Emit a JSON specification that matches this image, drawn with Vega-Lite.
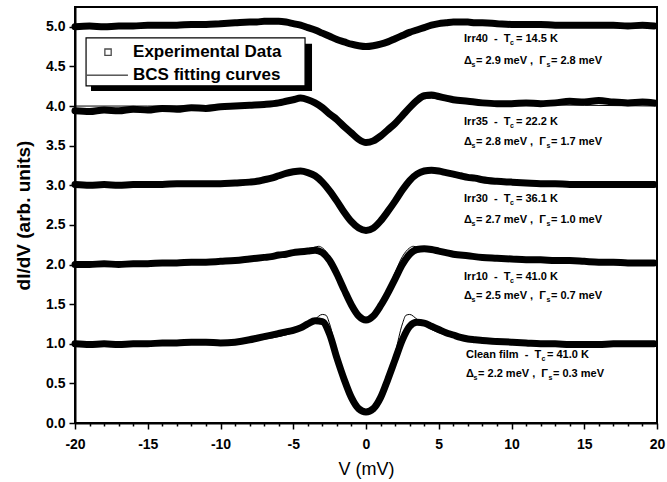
{
  "$schema": "https://vega.github.io/schema/vega-lite/v6.json",
  "autosize": "none",
  "width": 582,
  "height": 416,
  "padding": {"left": 75, "top": 7, "right": 10, "bottom": 59},
  "background": "white",
  "config": {
    "view": {"stroke": "black", "strokeWidth": 2},
    "axis": {
      "grid": false,
      "domainColor": "black",
      "domainWidth": 2,
      "tickColor": "black",
      "tickWidth": 1.5,
      "labelFont": "Liberation Sans",
      "labelFontWeight": "bold",
      "labelFontSize": 14,
      "labelColor": "black",
      "labelOverlap": false,
      "labelBound": false,
      "labelFlush": false,
      "titleColor": "black"
    },
    "text": {"font": "Liberation Sans"}
  },
  "resolve": {"axis": {"x": "independent"}},
  "datasets": {
    "exp": [
      {"s":"Irr40","v":-20,"g":5.00},{"s":"Irr40","v":-19,"g":5.01},{"s":"Irr40","v":-18,"g":5.00},{"s":"Irr40","v":-17,"g":5.01},{"s":"Irr40","v":-16,"g":5.01},{"s":"Irr40","v":-15,"g":5.02},{"s":"Irr40","v":-14,"g":5.02},{"s":"Irr40","v":-13,"g":5.02},{"s":"Irr40","v":-12,"g":5.03},{"s":"Irr40","v":-11,"g":5.03},{"s":"Irr40","v":-10,"g":5.04},{"s":"Irr40","v":-9,"g":5.05},{"s":"Irr40","v":-8,"g":5.06},{"s":"Irr40","v":-7.5,"g":5.06},{"s":"Irr40","v":-7,"g":5.07},{"s":"Irr40","v":-6.5,"g":5.07},{"s":"Irr40","v":-6,"g":5.07},{"s":"Irr40","v":-5.5,"g":5.06},{"s":"Irr40","v":-5,"g":5.04},{"s":"Irr40","v":-4.5,"g":5.02},{"s":"Irr40","v":-4,"g":4.99},{"s":"Irr40","v":-3.5,"g":4.96},{"s":"Irr40","v":-3,"g":4.92},{"s":"Irr40","v":-2.5,"g":4.88},{"s":"Irr40","v":-2,"g":4.84},{"s":"Irr40","v":-1.5,"g":4.81},{"s":"Irr40","v":-1,"g":4.78},{"s":"Irr40","v":-0.5,"g":4.76},{"s":"Irr40","v":0,"g":4.75},{"s":"Irr40","v":0.5,"g":4.76},{"s":"Irr40","v":1,"g":4.78},{"s":"Irr40","v":1.5,"g":4.81},{"s":"Irr40","v":2,"g":4.85},{"s":"Irr40","v":2.5,"g":4.89},{"s":"Irr40","v":3,"g":4.93},{"s":"Irr40","v":3.5,"g":4.96},{"s":"Irr40","v":4,"g":4.99},{"s":"Irr40","v":4.5,"g":5.02},{"s":"Irr40","v":5,"g":5.04},{"s":"Irr40","v":5.5,"g":5.05},{"s":"Irr40","v":6,"g":5.06},{"s":"Irr40","v":6.5,"g":5.06},{"s":"Irr40","v":7,"g":5.06},{"s":"Irr40","v":7.5,"g":5.05},{"s":"Irr40","v":8,"g":5.05},{"s":"Irr40","v":9,"g":5.04},{"s":"Irr40","v":10,"g":5.03},{"s":"Irr40","v":11,"g":5.03},{"s":"Irr40","v":12,"g":5.03},{"s":"Irr40","v":13,"g":5.02},{"s":"Irr40","v":14,"g":5.02},{"s":"Irr40","v":15,"g":5.02},{"s":"Irr40","v":16,"g":5.02},{"s":"Irr40","v":17,"g":5.02},{"s":"Irr40","v":18,"g":5.01},{"s":"Irr40","v":19,"g":5.02},{"s":"Irr40","v":19.8,"g":5.01},

      {"s":"Irr35","v":-20,"g":3.94},{"s":"Irr35","v":-19,"g":3.93},{"s":"Irr35","v":-18,"g":3.95},{"s":"Irr35","v":-17,"g":3.94},{"s":"Irr35","v":-16,"g":3.96},{"s":"Irr35","v":-15,"g":3.95},{"s":"Irr35","v":-14,"g":3.97},{"s":"Irr35","v":-13,"g":3.96},{"s":"Irr35","v":-12,"g":3.98},{"s":"Irr35","v":-11,"g":3.97},{"s":"Irr35","v":-10,"g":3.99},{"s":"Irr35","v":-9,"g":4.00},{"s":"Irr35","v":-8,"g":4.01},{"s":"Irr35","v":-7,"g":4.02},{"s":"Irr35","v":-6,"g":4.04},{"s":"Irr35","v":-5.5,"g":4.06},{"s":"Irr35","v":-5,"g":4.08},{"s":"Irr35","v":-4.5,"g":4.10},{"s":"Irr35","v":-4,"g":4.08},{"s":"Irr35","v":-3.5,"g":4.04},{"s":"Irr35","v":-3,"g":3.98},{"s":"Irr35","v":-2.5,"g":3.90},{"s":"Irr35","v":-2,"g":3.83},{"s":"Irr35","v":-1.5,"g":3.74},{"s":"Irr35","v":-1,"g":3.66},{"s":"Irr35","v":-0.5,"g":3.58},{"s":"Irr35","v":0,"g":3.54},{"s":"Irr35","v":0.5,"g":3.56},{"s":"Irr35","v":1,"g":3.62},{"s":"Irr35","v":1.5,"g":3.70},{"s":"Irr35","v":2,"g":3.78},{"s":"Irr35","v":2.5,"g":3.88},{"s":"Irr35","v":3,"g":3.98},{"s":"Irr35","v":3.5,"g":4.07},{"s":"Irr35","v":4,"g":4.13},{"s":"Irr35","v":4.5,"g":4.14},{"s":"Irr35","v":5,"g":4.12},{"s":"Irr35","v":5.5,"g":4.10},{"s":"Irr35","v":6,"g":4.08},{"s":"Irr35","v":7,"g":4.06},{"s":"Irr35","v":8,"g":4.04},{"s":"Irr35","v":9,"g":4.03},{"s":"Irr35","v":10,"g":4.03},{"s":"Irr35","v":11,"g":4.04},{"s":"Irr35","v":12,"g":4.03},{"s":"Irr35","v":13,"g":4.04},{"s":"Irr35","v":14,"g":4.06},{"s":"Irr35","v":15,"g":4.05},{"s":"Irr35","v":16,"g":4.07},{"s":"Irr35","v":17,"g":4.05},{"s":"Irr35","v":18,"g":4.04},{"s":"Irr35","v":19,"g":4.05},{"s":"Irr35","v":19.8,"g":4.04},

      {"s":"Irr30","v":-20,"g":3.01},{"s":"Irr30","v":-19,"g":3.00},{"s":"Irr30","v":-18,"g":3.01},{"s":"Irr30","v":-17,"g":3.00},{"s":"Irr30","v":-16,"g":3.01},{"s":"Irr30","v":-15,"g":3.01},{"s":"Irr30","v":-14,"g":3.01},{"s":"Irr30","v":-13,"g":3.02},{"s":"Irr30","v":-12,"g":3.02},{"s":"Irr30","v":-11,"g":3.02},{"s":"Irr30","v":-10,"g":3.02},{"s":"Irr30","v":-9,"g":3.03},{"s":"Irr30","v":-8,"g":3.04},{"s":"Irr30","v":-7.5,"g":3.05},{"s":"Irr30","v":-7,"g":3.07},{"s":"Irr30","v":-6.5,"g":3.09},{"s":"Irr30","v":-6,"g":3.12},{"s":"Irr30","v":-5.5,"g":3.15},{"s":"Irr30","v":-5,"g":3.17},{"s":"Irr30","v":-4.5,"g":3.18},{"s":"Irr30","v":-4,"g":3.16},{"s":"Irr30","v":-3.5,"g":3.12},{"s":"Irr30","v":-3,"g":3.04},{"s":"Irr30","v":-2.5,"g":2.93},{"s":"Irr30","v":-2,"g":2.80},{"s":"Irr30","v":-1.5,"g":2.66},{"s":"Irr30","v":-1,"g":2.54},{"s":"Irr30","v":-0.5,"g":2.46},{"s":"Irr30","v":0,"g":2.43},{"s":"Irr30","v":0.5,"g":2.46},{"s":"Irr30","v":1,"g":2.55},{"s":"Irr30","v":1.5,"g":2.67},{"s":"Irr30","v":2,"g":2.80},{"s":"Irr30","v":2.5,"g":2.94},{"s":"Irr30","v":3,"g":3.06},{"s":"Irr30","v":3.5,"g":3.14},{"s":"Irr30","v":4,"g":3.18},{"s":"Irr30","v":4.5,"g":3.19},{"s":"Irr30","v":5,"g":3.18},{"s":"Irr30","v":5.5,"g":3.16},{"s":"Irr30","v":6,"g":3.14},{"s":"Irr30","v":6.5,"g":3.12},{"s":"Irr30","v":7,"g":3.10},{"s":"Irr30","v":7.5,"g":3.09},{"s":"Irr30","v":8,"g":3.07},{"s":"Irr30","v":9,"g":3.05},{"s":"Irr30","v":10,"g":3.04},{"s":"Irr30","v":11,"g":3.03},{"s":"Irr30","v":12,"g":3.02},{"s":"Irr30","v":13,"g":3.02},{"s":"Irr30","v":14,"g":3.01},{"s":"Irr30","v":15,"g":3.01},{"s":"Irr30","v":16,"g":3.01},{"s":"Irr30","v":17,"g":3.01},{"s":"Irr30","v":18,"g":3.01},{"s":"Irr30","v":19,"g":3.01},{"s":"Irr30","v":19.8,"g":3.01},

      {"s":"Irr10","v":-20,"g":2.00},{"s":"Irr10","v":-19,"g":2.00},{"s":"Irr10","v":-18,"g":2.01},{"s":"Irr10","v":-17,"g":2.00},{"s":"Irr10","v":-16,"g":2.01},{"s":"Irr10","v":-15,"g":2.01},{"s":"Irr10","v":-14,"g":2.02},{"s":"Irr10","v":-13,"g":2.02},{"s":"Irr10","v":-12,"g":2.03},{"s":"Irr10","v":-11,"g":2.03},{"s":"Irr10","v":-10,"g":2.04},{"s":"Irr10","v":-9,"g":2.05},{"s":"Irr10","v":-8,"g":2.07},{"s":"Irr10","v":-7.5,"g":2.08},{"s":"Irr10","v":-7,"g":2.09},{"s":"Irr10","v":-6.5,"g":2.10},{"s":"Irr10","v":-6,"g":2.12},{"s":"Irr10","v":-5.5,"g":2.13},{"s":"Irr10","v":-5,"g":2.15},{"s":"Irr10","v":-4.5,"g":2.16},{"s":"Irr10","v":-4,"g":2.17},{"s":"Irr10","v":-3.5,"g":2.18},{"s":"Irr10","v":-3,"g":2.15},{"s":"Irr10","v":-2.5,"g":2.05},{"s":"Irr10","v":-2,"g":1.88},{"s":"Irr10","v":-1.5,"g":1.68},{"s":"Irr10","v":-1,"g":1.49},{"s":"Irr10","v":-0.5,"g":1.35},{"s":"Irr10","v":0,"g":1.30},{"s":"Irr10","v":0.5,"g":1.35},{"s":"Irr10","v":1,"g":1.48},{"s":"Irr10","v":1.5,"g":1.64},{"s":"Irr10","v":2,"g":1.82},{"s":"Irr10","v":2.5,"g":2.00},{"s":"Irr10","v":3,"g":2.13},{"s":"Irr10","v":3.5,"g":2.19},{"s":"Irr10","v":4,"g":2.20},{"s":"Irr10","v":4.5,"g":2.19},{"s":"Irr10","v":5,"g":2.17},{"s":"Irr10","v":5.5,"g":2.15},{"s":"Irr10","v":6,"g":2.13},{"s":"Irr10","v":7,"g":2.11},{"s":"Irr10","v":8,"g":2.09},{"s":"Irr10","v":9,"g":2.08},{"s":"Irr10","v":10,"g":2.07},{"s":"Irr10","v":11,"g":2.06},{"s":"Irr10","v":12,"g":2.06},{"s":"Irr10","v":13,"g":2.05},{"s":"Irr10","v":14,"g":2.05},{"s":"Irr10","v":15,"g":2.04},{"s":"Irr10","v":16,"g":2.03},{"s":"Irr10","v":17,"g":2.03},{"s":"Irr10","v":18,"g":2.02},{"s":"Irr10","v":19,"g":2.02},{"s":"Irr10","v":19.8,"g":2.02},

      {"s":"Clean","v":-20,"g":1.00},{"s":"Clean","v":-19,"g":0.99},{"s":"Clean","v":-18,"g":1.00},{"s":"Clean","v":-17,"g":0.99},{"s":"Clean","v":-16,"g":1.00},{"s":"Clean","v":-15,"g":1.00},{"s":"Clean","v":-14,"g":1.01},{"s":"Clean","v":-13,"g":1.01},{"s":"Clean","v":-12,"g":1.02},{"s":"Clean","v":-11,"g":1.02},{"s":"Clean","v":-10,"g":1.01},{"s":"Clean","v":-9,"g":1.02},{"s":"Clean","v":-8,"g":1.05},{"s":"Clean","v":-7.5,"g":1.07},{"s":"Clean","v":-7,"g":1.09},{"s":"Clean","v":-6.5,"g":1.11},{"s":"Clean","v":-6,"g":1.13},{"s":"Clean","v":-5.5,"g":1.15},{"s":"Clean","v":-5,"g":1.17},{"s":"Clean","v":-4.5,"g":1.20},{"s":"Clean","v":-4,"g":1.25},{"s":"Clean","v":-3.5,"g":1.29},{"s":"Clean","v":-3,"g":1.28},{"s":"Clean","v":-2.5,"g":1.12},{"s":"Clean","v":-2,"g":0.82},{"s":"Clean","v":-1.5,"g":0.55},{"s":"Clean","v":-1,"g":0.32},{"s":"Clean","v":-0.5,"g":0.18},{"s":"Clean","v":0,"g":0.14},{"s":"Clean","v":0.5,"g":0.18},{"s":"Clean","v":1,"g":0.32},{"s":"Clean","v":1.5,"g":0.55},{"s":"Clean","v":2,"g":0.80},{"s":"Clean","v":2.5,"g":1.05},{"s":"Clean","v":3,"g":1.22},{"s":"Clean","v":3.5,"g":1.27},{"s":"Clean","v":4,"g":1.26},{"s":"Clean","v":4.5,"g":1.22},{"s":"Clean","v":5,"g":1.18},{"s":"Clean","v":5.5,"g":1.14},{"s":"Clean","v":6,"g":1.11},{"s":"Clean","v":6.5,"g":1.08},{"s":"Clean","v":7,"g":1.06},{"s":"Clean","v":7.5,"g":1.05},{"s":"Clean","v":8,"g":1.04},{"s":"Clean","v":9,"g":1.03},{"s":"Clean","v":10,"g":1.02},{"s":"Clean","v":11,"g":1.01},{"s":"Clean","v":12,"g":1.00},{"s":"Clean","v":13,"g":1.00},{"s":"Clean","v":14,"g":0.99},{"s":"Clean","v":15,"g":0.99},{"s":"Clean","v":16,"g":0.99},{"s":"Clean","v":17,"g":1.00},{"s":"Clean","v":18,"g":1.00},{"s":"Clean","v":19,"g":1.00},{"s":"Clean","v":19.8,"g":1.00}
    ],
    "fit": [
      {"s":"Irr40","v":-20,"g":5.00},{"s":"Irr40","v":-15,"g":5.01},{"s":"Irr40","v":-10,"g":5.03},{"s":"Irr40","v":-8,"g":5.05},{"s":"Irr40","v":-7,"g":5.06},{"s":"Irr40","v":-6,"g":5.06},{"s":"Irr40","v":-5,"g":5.04},{"s":"Irr40","v":-4,"g":4.99},{"s":"Irr40","v":-3,"g":4.92},{"s":"Irr40","v":-2,"g":4.84},{"s":"Irr40","v":-1,"g":4.78},{"s":"Irr40","v":0,"g":4.75},{"s":"Irr40","v":1,"g":4.78},{"s":"Irr40","v":2,"g":4.84},{"s":"Irr40","v":3,"g":4.92},{"s":"Irr40","v":4,"g":4.99},{"s":"Irr40","v":5,"g":5.04},{"s":"Irr40","v":6,"g":5.06},{"s":"Irr40","v":7,"g":5.06},{"s":"Irr40","v":8,"g":5.05},{"s":"Irr40","v":10,"g":5.03},{"s":"Irr40","v":15,"g":5.02},{"s":"Irr40","v":20,"g":5.01},

      {"s":"Irr35","v":-20,"g":4.00},{"s":"Irr35","v":-15,"g":4.00},{"s":"Irr35","v":-10,"g":4.01},{"s":"Irr35","v":-8,"g":4.02},{"s":"Irr35","v":-6,"g":4.05},{"s":"Irr35","v":-5,"g":4.07},{"s":"Irr35","v":-4.5,"g":4.08},{"s":"Irr35","v":-4,"g":4.07},{"s":"Irr35","v":-3,"g":3.99},{"s":"Irr35","v":-2,"g":3.83},{"s":"Irr35","v":-1,"g":3.65},{"s":"Irr35","v":0,"g":3.55},{"s":"Irr35","v":1,"g":3.63},{"s":"Irr35","v":2,"g":3.80},{"s":"Irr35","v":3,"g":3.99},{"s":"Irr35","v":4,"g":4.09},{"s":"Irr35","v":4.5,"g":4.10},{"s":"Irr35","v":5,"g":4.09},{"s":"Irr35","v":6,"g":4.06},{"s":"Irr35","v":8,"g":4.03},{"s":"Irr35","v":10,"g":4.02},{"s":"Irr35","v":15,"g":4.01},{"s":"Irr35","v":20,"g":4.00},

      {"s":"Irr30","v":-20,"g":3.00},{"s":"Irr30","v":-15,"g":3.01},{"s":"Irr30","v":-10,"g":3.02},{"s":"Irr30","v":-8,"g":3.04},{"s":"Irr30","v":-7,"g":3.06},{"s":"Irr30","v":-6,"g":3.11},{"s":"Irr30","v":-5,"g":3.16},{"s":"Irr30","v":-4.5,"g":3.18},{"s":"Irr30","v":-4,"g":3.17},{"s":"Irr30","v":-3.5,"g":3.12},{"s":"Irr30","v":-3,"g":3.05},{"s":"Irr30","v":-2.5,"g":2.94},{"s":"Irr30","v":-2,"g":2.81},{"s":"Irr30","v":-1.5,"g":2.67},{"s":"Irr30","v":-1,"g":2.55},{"s":"Irr30","v":-0.5,"g":2.46},{"s":"Irr30","v":0,"g":2.43},{"s":"Irr30","v":0.5,"g":2.46},{"s":"Irr30","v":1,"g":2.55},{"s":"Irr30","v":1.5,"g":2.67},{"s":"Irr30","v":2,"g":2.81},{"s":"Irr30","v":2.5,"g":2.94},{"s":"Irr30","v":3,"g":3.05},{"s":"Irr30","v":3.5,"g":3.12},{"s":"Irr30","v":4,"g":3.17},{"s":"Irr30","v":4.5,"g":3.18},{"s":"Irr30","v":5,"g":3.16},{"s":"Irr30","v":6,"g":3.11},{"s":"Irr30","v":7,"g":3.07},{"s":"Irr30","v":8,"g":3.05},{"s":"Irr30","v":10,"g":3.03},{"s":"Irr30","v":15,"g":3.01},{"s":"Irr30","v":20,"g":3.00},

      {"s":"Irr10","v":-20,"g":2.00},{"s":"Irr10","v":-15,"g":2.01},{"s":"Irr10","v":-10,"g":2.04},{"s":"Irr10","v":-8,"g":2.07},{"s":"Irr10","v":-6,"g":2.11},{"s":"Irr10","v":-5,"g":2.14},{"s":"Irr10","v":-4,"g":2.19},{"s":"Irr10","v":-3.5,"g":2.22},{"s":"Irr10","v":-3.25,"g":2.23},{"s":"Irr10","v":-3,"g":2.21},{"s":"Irr10","v":-2.5,"g":2.10},{"s":"Irr10","v":-2,"g":1.90},{"s":"Irr10","v":-1.5,"g":1.68},{"s":"Irr10","v":-1,"g":1.48},{"s":"Irr10","v":-0.5,"g":1.34},{"s":"Irr10","v":0,"g":1.29},{"s":"Irr10","v":0.5,"g":1.34},{"s":"Irr10","v":1,"g":1.48},{"s":"Irr10","v":1.5,"g":1.68},{"s":"Irr10","v":2,"g":1.90},{"s":"Irr10","v":2.5,"g":2.10},{"s":"Irr10","v":3,"g":2.21},{"s":"Irr10","v":3.25,"g":2.23},{"s":"Irr10","v":3.5,"g":2.22},{"s":"Irr10","v":4,"g":2.19},{"s":"Irr10","v":5,"g":2.14},{"s":"Irr10","v":6,"g":2.11},{"s":"Irr10","v":8,"g":2.07},{"s":"Irr10","v":10,"g":2.05},{"s":"Irr10","v":15,"g":2.03},{"s":"Irr10","v":20,"g":2.02},

      {"s":"Clean","v":-20,"g":1.00},{"s":"Clean","v":-15,"g":1.00},{"s":"Clean","v":-10,"g":1.02},{"s":"Clean","v":-8,"g":1.04},{"s":"Clean","v":-6,"g":1.09},{"s":"Clean","v":-5,"g":1.14},{"s":"Clean","v":-4.5,"g":1.18},{"s":"Clean","v":-4,"g":1.24},{"s":"Clean","v":-3.5,"g":1.31},{"s":"Clean","v":-3,"g":1.37},{"s":"Clean","v":-2.75,"g":1.36},{"s":"Clean","v":-2.5,"g":1.25},{"s":"Clean","v":-2,"g":0.88},{"s":"Clean","v":-1.5,"g":0.55},{"s":"Clean","v":-1,"g":0.30},{"s":"Clean","v":-0.5,"g":0.16},{"s":"Clean","v":0,"g":0.12},{"s":"Clean","v":0.5,"g":0.16},{"s":"Clean","v":1,"g":0.30},{"s":"Clean","v":1.5,"g":0.55},{"s":"Clean","v":2,"g":0.88},{"s":"Clean","v":2.5,"g":1.25},{"s":"Clean","v":2.75,"g":1.36},{"s":"Clean","v":3,"g":1.37},{"s":"Clean","v":3.5,"g":1.31},{"s":"Clean","v":4,"g":1.24},{"s":"Clean","v":4.5,"g":1.18},{"s":"Clean","v":5,"g":1.14},{"s":"Clean","v":6,"g":1.09},{"s":"Clean","v":8,"g":1.04},{"s":"Clean","v":10,"g":1.02},{"s":"Clean","v":15,"g":1.00},{"s":"Clean","v":20,"g":1.00}
    ],
    "notes": [
      {"x":6.74,"y":4.85,"t":"Irr40\u00a0\u00a0-\u00a0\u00a0T"},{"x":10.31,"y":4.85,"t":"= 14.5 K"},
      {"x":6.74,"y":4.57,"t":"Δ"},{"x":7.56,"y":4.57,"t":"= 2.9 meV ,\u00a0\u00a0Γ"},{"x":12.71,"y":4.57,"t":"= 2.8 meV"},
      {"x":6.74,"y":3.80,"t":"Irr35\u00a0\u00a0-\u00a0\u00a0T"},{"x":10.31,"y":3.80,"t":"= 22.2 K"},
      {"x":6.74,"y":3.55,"t":"Δ"},{"x":7.56,"y":3.55,"t":"= 2.8 meV ,\u00a0\u00a0Γ"},{"x":12.71,"y":3.55,"t":"= 1.7 meV"},
      {"x":6.74,"y":2.83,"t":"Irr30\u00a0\u00a0-\u00a0\u00a0T"},{"x":10.31,"y":2.83,"t":"= 36.1 K"},
      {"x":6.74,"y":2.56,"t":"Δ"},{"x":7.56,"y":2.56,"t":"= 2.7 meV ,\u00a0\u00a0Γ"},{"x":12.71,"y":2.56,"t":"= 1.0 meV"},
      {"x":6.74,"y":1.84,"t":"Irr10\u00a0\u00a0-\u00a0\u00a0T"},{"x":10.31,"y":1.84,"t":"= 41.0 K"},
      {"x":6.74,"y":1.60,"t":"Δ"},{"x":7.56,"y":1.60,"t":"= 2.5 meV ,\u00a0\u00a0Γ"},{"x":12.71,"y":1.60,"t":"= 0.7 meV"},
      {"x":6.87,"y":0.86,"t":"Clean film\u00a0\u00a0-\u00a0\u00a0T"},{"x":12.44,"y":0.86,"t":"= 41.0 K"},
      {"x":6.87,"y":0.62,"t":"Δ"},{"x":7.70,"y":0.62,"t":"= 2.2 meV ,\u00a0\u00a0Γ"},{"x":12.85,"y":0.62,"t":"= 0.3 meV"}
    ],
    "subs": [
      {"x":9.90,"y":4.85,"t":"c"},{"x":7.25,"y":4.57,"t":"s"},{"x":12.40,"y":4.57,"t":"s"},
      {"x":9.90,"y":3.80,"t":"c"},{"x":7.25,"y":3.55,"t":"s"},{"x":12.40,"y":3.55,"t":"s"},
      {"x":9.90,"y":2.83,"t":"c"},{"x":7.25,"y":2.56,"t":"s"},{"x":12.40,"y":2.56,"t":"s"},
      {"x":9.90,"y":1.84,"t":"c"},{"x":7.25,"y":1.60,"t":"s"},{"x":12.40,"y":1.60,"t":"s"},
      {"x":12.06,"y":0.86,"t":"c"},{"x":7.38,"y":0.62,"t":"s"},{"x":12.54,"y":0.62,"t":"s"}
    ]
  },
  "layer": [
    {
      "data": {"name": "exp"},
      "mark": {"type": "line", "color": "black", "strokeWidth": 7, "strokeJoin": "round", "strokeCap": "round", "interpolate": "monotone"},
      "encoding": {
        "x": {
          "field": "v", "type": "quantitative",
          "scale": {"domain": [-20, 20], "nice": false},
          "axis": {
            "orient": "bottom",
            "title": "V (mV)",
            "titleFont": "Liberation Sans", "titleFontSize": 18, "titleFontWeight": "normal", "titlePadding": 9,
            "values": [-20,-15,-10,-5,0,5,10,15,20],
            "labelExpr": "'' + datum.value",
            "tickSize": 6,
            "labelPadding": 8,
            "labelFlush": false
          }
        },
        "y": {
          "field": "g", "type": "quantitative",
          "scale": {"domain": [0, 5.25], "nice": false, "zero": false},
          "axis": {
            "title": "dI/dV (arb. units)",
            "titleFont": "Liberation Sans", "titleFontSize": 19, "titleFontWeight": "bold", "titlePadding": 12,
            "values": [0,0.25,0.5,0.75,1,1.25,1.5,1.75,2,2.25,2.5,2.75,3,3.25,3.5,3.75,4,4.25,4.5,4.75,5],
            "labelExpr": "datum.value % 0.5 === 0 ? format(datum.value, '.1f') : ''",
            "tickSize": {"condition": {"test": "datum.value % 0.5 === 0", "value": 6}, "value": 3},
            "labelPadding": 4
          }
        },
        "detail": {"field": "s"}
      }
    },
    {
      "data": {"name": "fit"},
      "mark": {"type": "line", "color": "black", "strokeWidth": 1, "interpolate": "monotone"},
      "encoding": {
        "x": {
          "field": "v", "type": "quantitative",
          "axis": {
            "orient": "bottom",
            "title": null,
            "labels": false,
            "domain": false,
            "tickSize": 3,
            "values": [-19,-18,-17,-16,-14,-13,-12,-11,-9,-8,-7,-6,-4,-3,-2,-1,1,2,3,4,6,7,8,9,11,12,13,14,16,17,18,19]
          }
        },
        "y": {"field": "g", "type": "quantitative"},
        "detail": {"field": "s"}
      }
    },
    {
      "data": {"values": [{}]},
      "mark": {"type": "rect", "color": "black"},
      "encoding": {
        "x": {"datum": -18.9, "axis": null}, "x2": {"datum": -3.71},
        "y": {"datum": 4.19}, "y2": {"datum": 4.785}
      }
    },
    {
      "data": {"values": [{}]},
      "mark": {"type": "rect", "fill": "white", "stroke": "black", "strokeWidth": 1.2},
      "encoding": {
        "x": {"datum": -19.24, "axis": null}, "x2": {"datum": -4.19},
        "y": {"datum": 4.255}, "y2": {"datum": 4.86}
      }
    },
    {
      "data": {"values": [{}]},
      "mark": {"type": "point", "shape": "square", "filled": false, "color": "black", "size": 40, "strokeWidth": 1.3},
      "encoding": {"x": {"datum": -17.73, "axis": null}, "y": {"datum": 4.68}}
    },
    {
      "data": {"values": [{}]},
      "mark": {"type": "rule", "color": "black", "strokeWidth": 1},
      "encoding": {"x": {"datum": -19.18, "axis": null}, "x2": {"datum": -16.36}, "y": {"datum": 4.39}}
    },
    {
      "data": {"values": [{"t": "Experimental Data", "y": 4.68}, {"t": "BCS fitting curves", "y": 4.39}]},
      "mark": {"type": "text", "align": "left", "baseline": "middle", "font": "Liberation Sans", "fontWeight": "bold", "fontSize": 17, "color": "black"},
      "encoding": {"x": {"datum": -16.01, "axis": null}, "y": {"field": "y", "type": "quantitative"}, "text": {"field": "t"}}
    },
    {
      "data": {"name": "notes"},
      "mark": {"type": "text", "align": "left", "baseline": "middle", "font": "Liberation Sans", "fontWeight": "bold", "fontSize": 11, "color": "black"},
      "encoding": {"x": {"field": "x", "type": "quantitative", "axis": null}, "y": {"field": "y", "type": "quantitative"}, "text": {"field": "t"}}
    },
    {
      "data": {"name": "subs"},
      "mark": {"type": "text", "align": "left", "baseline": "middle", "font": "Liberation Sans", "fontWeight": "bold", "fontSize": 7, "dy": 4, "color": "black"},
      "encoding": {"x": {"field": "x", "type": "quantitative", "axis": null}, "y": {"field": "y", "type": "quantitative"}, "text": {"field": "t"}}
    }
  ]
}
